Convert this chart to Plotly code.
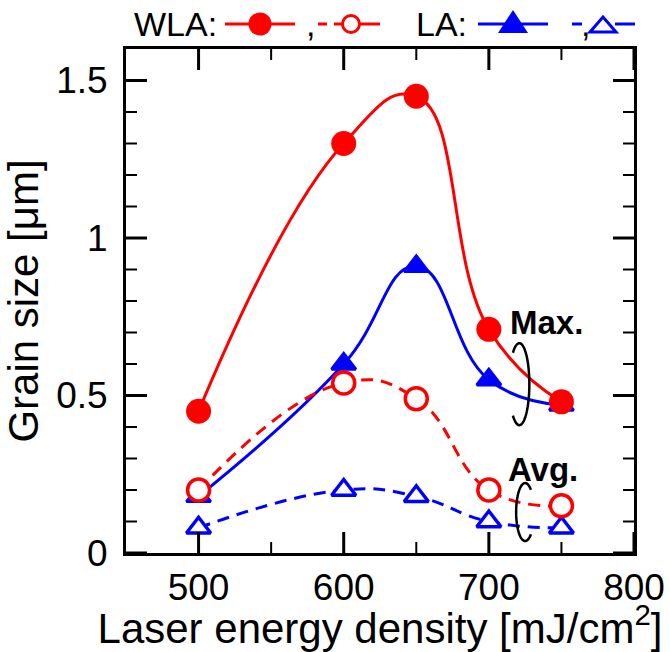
import numpy as np
import plotly.graph_objects as go

# Laser energy density [mJ/cm^2]
energy = [500, 600, 650, 700, 750]
# Grain size [um]
wla_max = [0.45, 1.30, 1.45, 0.71, 0.48]
wla_avg = [0.20, 0.54, 0.49, 0.20, 0.15]
la_max = [0.18, 0.60, 0.91, 0.55, 0.47]
la_avg = [0.08, 0.20, 0.18, 0.10, 0.08]

x_ticks = [500, 600, 700, 800]
x_minor = [550, 650, 750]
y_ticks = [0, 0.5, 1, 1.5]
y_minor = [0.1, 0.2, 0.3, 0.4, 0.6, 0.7, 0.8, 0.9, 1.1, 1.2, 1.3, 1.4]

RED = "#ff0000"
BLUE = "#0000ff"
FONT = "Liberation Sans, Arial, sans-serif"
TICK_COLOR = "black"

W, H = 670, 652
ML, MR, MT, MB = 126, 36, 49, 99


def px_x(px):
    return (px - ML) / (W - ML - MR)


def px_y(py):
    return (H - MB - py) / (H - MT - MB)


DASH = "12px,8px"
SMOOTH = 1.3
fig = go.Figure()

# LA series (drawn first so the WLA markers sit on top)
fig.add_trace(go.Scatter(
    x=energy, y=la_avg, mode="lines+markers",
    line=dict(color=BLUE, width=3, dash=DASH, shape="spline", smoothing=SMOOTH),
    marker=dict(symbol="triangle-up", size=21, color="white",
                line=dict(color=BLUE, width=3.5)),
    showlegend=False))
fig.add_trace(go.Scatter(
    x=energy, y=la_max, mode="lines+markers",
    line=dict(color=BLUE, width=3, shape="spline", smoothing=SMOOTH),
    marker=dict(symbol="triangle-up", size=21, color=BLUE,
                line=dict(color=BLUE, width=3)),
    showlegend=False))
# WLA series
fig.add_trace(go.Scatter(
    x=energy, y=wla_avg, mode="lines+markers",
    line=dict(color=RED, width=3, dash=DASH, shape="spline", smoothing=SMOOTH),
    marker=dict(symbol="circle", size=22, color="white",
                line=dict(color=RED, width=3.5)),
    showlegend=False))
fig.add_trace(go.Scatter(
    x=energy, y=wla_max, mode="lines+markers",
    line=dict(color=RED, width=3, shape="spline", smoothing=SMOOTH),
    marker=dict(symbol="circle", size=25, color=RED, line=dict(width=0)),
    showlegend=False))

shapes = []
annotations = []

# ---- inward tick marks on all four sides of the frame ----
MAJOR_LEN, MINOR_LEN = 21, 11


def x_tick(v, length, width):
    for anchor, sign in ((0, 1), (1, -1)):
        shapes.append(dict(type="line", xref="x", yref="paper",
                           ysizemode="pixel", yanchor=anchor,
                           x0=v, x1=v, y0=0, y1=sign * length,
                           line=dict(color=TICK_COLOR, width=width)))


def y_tick(v, length, width):
    for anchor, sign in ((0, 1), (1, -1)):
        shapes.append(dict(type="line", xref="paper", yref="y",
                           xsizemode="pixel", xanchor=anchor,
                           y0=v, y1=v, x0=0, x1=sign * length,
                           line=dict(color=TICK_COLOR, width=width)))


for v in x_ticks:
    x_tick(v, MAJOR_LEN, 3)
for v in x_minor:
    x_tick(v, MINOR_LEN, 2)
for v in y_ticks:
    y_tick(v, MAJOR_LEN, 3)
for v in y_minor:
    y_tick(v, MINOR_LEN, 2)

# ---- legend row above the frame ----
ly = px_y(24)


def seg(x0, x1, color):
    shapes.append(dict(type="line", xref="paper", yref="paper",
                       x0=px_x(x0), x1=px_x(x1), y0=ly, y1=ly,
                       line=dict(color=color, width=3)))


def circle(cx, r, color, filled):
    shapes.append(dict(type="circle", xref="paper", yref="paper",
                       xsizemode="pixel", ysizemode="pixel",
                       xanchor=px_x(cx), yanchor=ly,
                       x0=-r, x1=r, y0=-r, y1=r,
                       fillcolor=color if filled else "white",
                       line=dict(color=color, width=0 if filled else 3)))


def triangle(cx, half_w, down, up, color, filled):
    shapes.append(dict(type="path", xref="paper", yref="paper",
                       xsizemode="pixel", ysizemode="pixel",
                       xanchor=px_x(cx), yanchor=ly,
                       path=f"M {-half_w},{-down} L {half_w},{-down} L 0,{up} Z",
                       fillcolor=color if filled else "white",
                       line=dict(color=color, width=0 if filled else 3)))


def label(text, px, anchor="left", size=34):
    annotations.append(dict(text=text, xref="paper", yref="paper",
                            x=px_x(px), y=ly, xanchor=anchor, yanchor="middle",
                            showarrow=False,
                            font=dict(family=FONT, size=size, color="black")))


label("WLA:", 132)
seg(225, 295, RED)
circle(260, 11.5, RED, True)
label(",", 310, "center")
seg(318, 327, RED)
seg(334, 342, RED)
seg(359, 380, RED)
circle(351, 8.5, RED, False)

label("LA:", 414)
seg(478, 548, BLUE)
triangle(513, 15, 9, 14, BLUE, True)
seg(572, 582, BLUE)
label(",", 585, "center")
seg(615, 635, BLUE)
triangle(603, 13, 8, 7, BLUE, False)

# ---- group brackets for Max. / Avg. ----


def ellipse_path(a, b, t0, t1, n=60):
    t = np.radians(np.linspace(t0, t1, n))
    xs = a * np.cos(t)
    ys = b * np.sin(t)
    pts = [f"{x:.2f},{y:.2f}" for x, y in zip(xs, ys)]
    return "M " + " L ".join(pts)


shapes.append(dict(type="path", xref="x", yref="y",
                   xsizemode="pixel", ysizemode="pixel",
                   xanchor=721, yanchor=0.536,
                   path=ellipse_path(10, 41, 130, -130),
                   line=dict(color="black", width=2.5)))
shapes.append(dict(type="path", xref="x", yref="y",
                   xsizemode="pixel", ysizemode="pixel",
                   xanchor=725, yanchor=0.13,
                   path=ellipse_path(9, 29, 50, 310),
                   line=dict(color="black", width=2.5)))

annotations.append(dict(text="<b>Max.</b>", x=740, y=0.733, xref="x", yref="y",
                        xanchor="center", yanchor="middle", showarrow=False,
                        font=dict(family=FONT, size=33, color="black")))
annotations.append(dict(text="<b>Avg.</b>", x=737, y=0.265, xref="x", yref="y",
                        xanchor="center", yanchor="middle", showarrow=False,
                        font=dict(family=FONT, size=33, color="black")))

fig.update_layout(
    template="none",
    width=W, height=H,
    margin=dict(l=ML, r=MR, t=MT, b=MB, pad=0),
    paper_bgcolor="white", plot_bgcolor="white",
    font=dict(family=FONT, color="black"),
    shapes=shapes, annotations=annotations,
)

fig.update_xaxes(
    range=[450, 800], tickmode="array", tickvals=x_ticks, ticks="",
    showline=True, linecolor="black", linewidth=3, mirror=True,
    showgrid=False, zeroline=False, ticklabelstandoff=0,
    tickfont=dict(family=FONT, size=37, color="black"),
    title=dict(text="Laser energy density [mJ/cm<sup>2</sup>]",
               font=dict(family=FONT, size=42, color="black"), standoff=4),
)
fig.update_yaxes(
    range=[0, 1.6], tickmode="array", tickvals=y_ticks, ticks="",
    showline=True, linecolor="black", linewidth=3, mirror=True,
    showgrid=False, zeroline=False, ticklabelstandoff=8,
    tickfont=dict(family=FONT, size=37, color="black"),
    title=dict(text="Grain size [\u03bcm]",
               font=dict(family=FONT, size=42, color="black"), standoff=5),
)

fig.write_html("out.html")
